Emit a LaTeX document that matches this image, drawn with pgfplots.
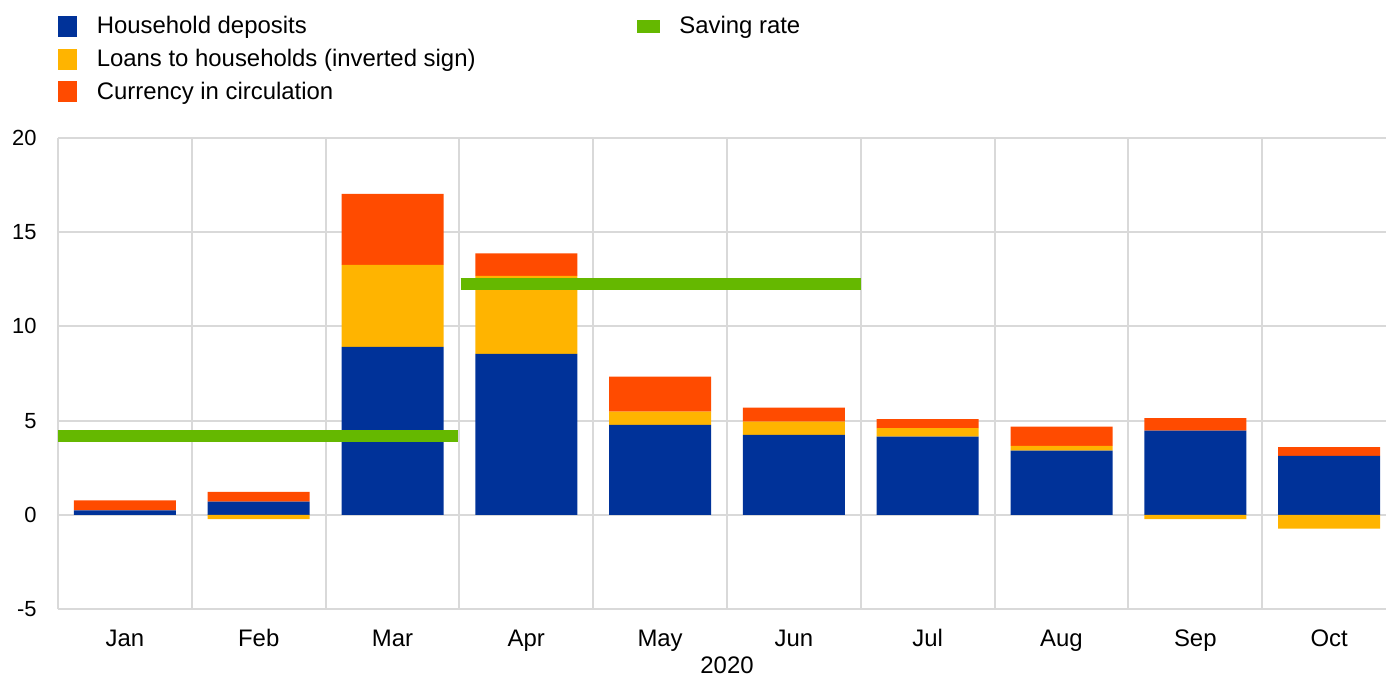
\documentclass[border=0pt]{standalone}
\usepackage{pgfplots}
\pgfplotsset{compat=1.18}
\usepackage{fontspec}
\setmainfont{Liberation Sans}
\definecolor{ecbblue}{HTML}{003299}
\definecolor{ecbyellow}{HTML}{FFB400}
\definecolor{ecborange}{HTML}{FF4B00}
\definecolor{ecbgreen}{HTML}{65B800}
\definecolor{gridgray}{HTML}{D9D9D9}
\begin{document}
\begin{tikzpicture}
\begin{axis}[
  scale only axis, width=669bp, height=235.5bp,
  xmin=-0.5, xmax=9.5, ymin=-5, ymax=20,
  ybar stacked, bar width=51bp,
  xtick={0,...,9},
  xticklabels={Jan,Feb,Mar,Apr,May,Jun,Jul,Aug,Sep,Oct},
  minor xtick={-0.5,0.5,...,9.5},
  xminorgrids, ymajorgrids,
  ytick={-5,0,5,10,15,20},
  yticklabels={-5,0,5,10,15,20},
  grid style={gridgray, line width=1bp},
  minor grid style={gridgray, line width=1bp},
  axis line style={draw=none},
  major tick length=0pt, minor tick length=0pt,
  tick style={draw=none},
  xticklabel style={font=\fontsize{12}{14}\selectfont, anchor=north, inner sep=0pt, text height=9bp, text depth=2.5bp, yshift=-9.5bp},
  yticklabel style={font=\fontsize{11}{13}\selectfont, anchor=east, inner sep=0pt, xshift=-10.5bp},
  xlabel={2020},
  xlabel style={font=\fontsize{12}{14}\selectfont, at={(axis description cs:0.5,0)}, anchor=north, inner sep=0pt, text height=9bp, text depth=0pt, yshift=-23bp},
  legend columns=2,
  legend cell align=left,
  legend style={at={(0,1)}, anchor=south west, yshift=16bp, draw=none, fill=none,
    inner sep=0pt, outer sep=0pt, font=\fontsize{12}{14}\selectfont,
    row sep=2.25bp,
    /tikz/every odd column/.append style={column sep=8bp},
    /tikz/every even column/.append style={column sep=78.5bp}},
]
\coordinate (sw) at (rel axis cs:0,0);
\addplot[fill=ecbblue, draw=none, forget plot] coordinates {(0,0.23)(1,0.70)(2,8.91)(3,8.54)(4,4.77)(5,4.24)(6,4.15)(7,3.40)(8,4.47)(9,3.13)};
\addplot[fill=ecbyellow, draw=none, forget plot] coordinates {(0,0)(1,0)(2,4.35)(3,4.14)(4,0.71)(5,0.71)(6,0.45)(7,0.26)(8,0)(9,0)};
\addplot[fill=ecborange, draw=none, forget plot] coordinates {(0,0.53)(1,0.52)(2,3.77)(3,1.20)(4,1.86)(5,0.74)(6,0.48)(7,1.02)(8,0.66)(9,0.46)};
\addlegendimage{legend image code/.code={\fill[ecbblue] (0bp,-5bp) rectangle (9bp,5bp);}}
\addlegendentry{Household deposits}
\addlegendimage{legend image code/.code={\fill[ecbgreen] (0bp,-3bp) rectangle (11bp,3bp);}}
\addlegendentry{Saving rate}
\addlegendimage{legend image code/.code={\fill[ecbyellow] (0bp,-5bp) rectangle (9bp,5bp);}}
\addlegendentry{Loans to households (inverted sign)}
\addlegendimage{empty legend}
\addlegendentry{}
\addlegendimage{legend image code/.code={\fill[ecborange] (0bp,-5bp) rectangle (9bp,5bp);}}
\addlegendentry{Currency in circulation}
\addlegendimage{empty legend}
\addlegendentry{}
\end{axis}
\begin{axis}[
  scale only axis, width=669bp, height=235.5bp,
  xmin=-0.5, xmax=9.5, ymin=-5, ymax=20,
  hide axis,
]
\addplot[ybar, bar width=51bp, bar shift=0pt, fill=ecbyellow, draw=none] coordinates {(1,-0.23)(8,-0.23)(9,-0.74)};
\addplot[ecbgreen, line width=6bp] coordinates {(-0.5,4.2)(2.49,4.2)};
\addplot[ecbgreen, line width=6bp] coordinates {(2.51,12.25)(5.5,12.25)};
\end{axis}
\pgfresetboundingbox
\path (sw) ++(-29bp,-34bp) rectangle ++(693bp,338.5bp);
\end{tikzpicture}
\end{document}
